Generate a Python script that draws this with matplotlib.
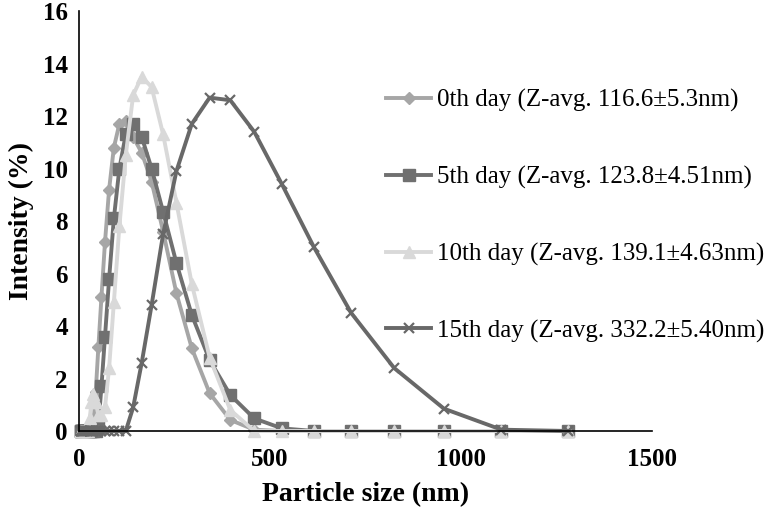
import matplotlib.pyplot as plt

# particle size bins (nm) from the Zetasizer output
size = [4.849, 5.615, 6.503, 7.531, 8.721, 10.1, 11.7, 13.54, 15.69, 18.17,
        21.04, 24.36, 28.21, 32.67, 37.84, 43.82, 50.75, 58.77, 68.06, 78.82,
        91.28, 105.7, 122.4, 141.8, 164.2, 190.1, 220.2, 255.0, 295.3, 342.0,
        396.1, 458.7, 531.2, 615.1, 712.4, 825.0, 955.4, 1106, 1281]

day0 = [0, 0, 0, 0, 0, 0, 0, 0, 0, 0,
        0, 0, 0, 0, 0.3, 1.5, 3.2, 5.1, 7.2, 9.2,
        10.8, 11.7, 11.8, 11.2, 10.6, 9.5, 7.6, 5.25, 3.15, 1.44,
        0.42, 0.05, 0, 0, 0, 0, 0, 0, 0]

day5 = [0, 0, 0, 0, 0, 0, 0, 0, 0, 0,
        0, 0, 0, 0, 0, 0, 0.2, 1.7, 3.6, 5.8,
        8.1, 10.0, 11.3, 11.7, 11.2, 10.0, 8.35, 6.4, 4.42, 2.7,
        1.37, 0.48, 0.1, 0, 0, 0, 0, 0, 0]

day10 = [0, 0, 0, 0, 0, 0, 0, 0, 0, 0,
         0, 0, 0.5, 1.1, 1.4, 1.1, 0.6, 0.6, 0.9, 2.4,
         4.9, 7.8, 10.5, 12.8, 13.5, 13.1, 11.3, 8.7, 5.6, 2.8,
         0.8, 0, 0, 0, 0, 0, 0, 0, 0]

day15 = [0, 0, 0, 0, 0, 0, 0, 0, 0, 0,
         0, 0, 0, 0, 0, 0, 0, 0, 0, 0,
         0, 0, 0, 0.9, 2.6, 4.8, 7.5, 9.9, 11.7, 12.7,
         12.6, 11.4, 9.4, 7.0, 4.5, 2.4, 0.85, 0.05, 0]

labels = ["0th day (Z-avg. 116.6\u00b15.3nm)",
          "5th day (Z-avg. 123.8\u00b14.51nm)",
          "10th day (Z-avg. 139.1\u00b14.63nm)",
          "15th day (Z-avg. 332.2\u00b15.40nm)"]

plt.rcParams['font.family'] = ['Liberation Serif', 'DejaVu Serif']

fig = plt.figure(figsize=(7.76, 5.11), dpi=100)
ax = fig.add_axes([79/776, 1 - 431/511, (652 - 79)/776, 420/511])

ax.plot(size, day0, color='#a6a6a6', lw=2.8, marker='D', ms=6,
        label=labels[0], clip_on=False)
ax.plot(size, day5, color='#707070', lw=2.8, marker='s', ms=8.5,
        label=labels[1], clip_on=False)
ax.plot(size, day10, color='#d9d9d9', lw=2.8, marker='^', ms=8.5,
        label=labels[2], clip_on=False)
ax.plot(size, day15, color='#686868', lw=2.8, marker='x', ms=7, mew=1.6,
        label=labels[3], clip_on=False)

ax.set_xlim(0, 1500)
ax.set_ylim(0, 16)
ax.set_xticks([0, 500, 1000, 1500])
ax.set_yticks(range(0, 17, 2))
ax.tick_params(length=0, labelsize=18, pad=8)
for t in ax.get_xticklabels() + ax.get_yticklabels():
    t.set_fontweight('bold')
ax.tick_params(axis='x', pad=12)

for s in ['top', 'right']:
    ax.spines[s].set_visible(False)
for s in ['left', 'bottom']:
    ax.spines[s].set_color('black')
    ax.spines[s].set_linewidth(1.2)

ax.set_xlabel("Particle size (nm)", fontsize=20, fontweight='bold', labelpad=8)
ax.set_ylabel("Intensity (%)", fontsize=20, fontweight='bold', labelpad=6)

fig.legend(loc='upper left', bbox_to_anchor=(386/776, 1 - 89/511),
           frameon=False, fontsize=18, borderpad=0, borderaxespad=0,
           labelspacing=2.15, handlelength=1.8, handletextpad=0.25)

fig.savefig("out.png", dpi=100)
